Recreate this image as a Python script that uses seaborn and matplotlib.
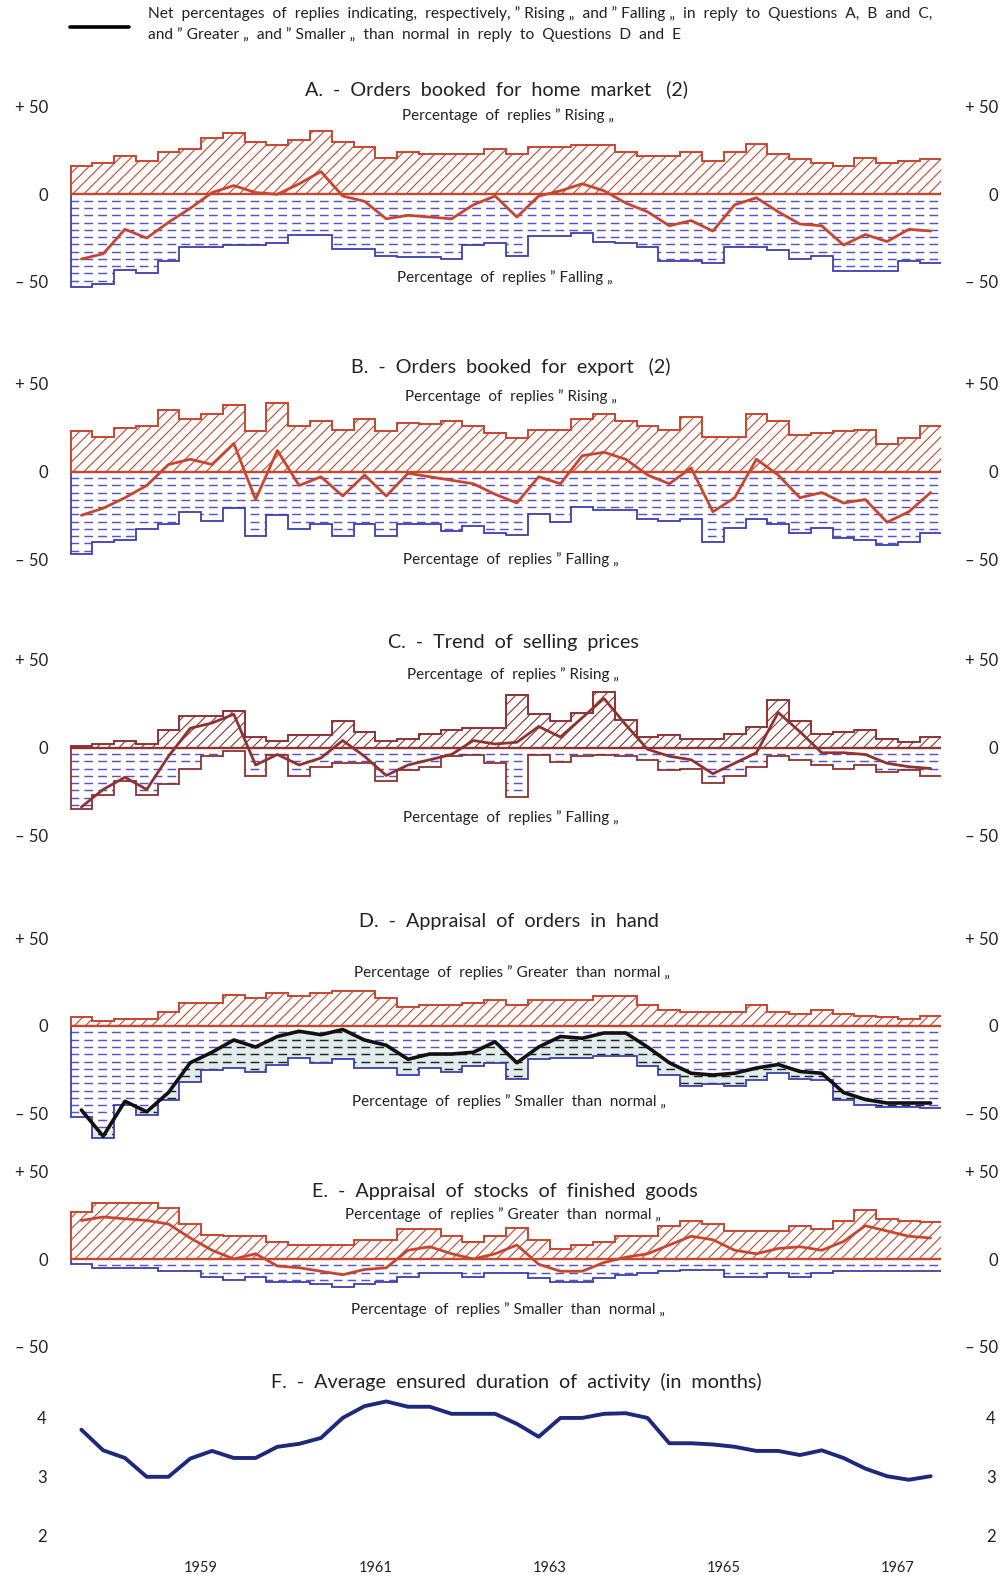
import numpy as np
import seaborn as sns
import matplotlib.pyplot as plt
from matplotlib.lines import Line2D
from matplotlib.patches import Polygon

# quarterly survey, 1958 Q1 .. 1967 Q4 (start of each quarter, in years)
quarters = np.arange(1958, 1968, 0.25)
centers = quarters + 0.125
years = [1959, 1961, 1963, 1965, 1967]

# A. orders booked for home market
a_rising = [16, 18, 22, 19, 24, 26, 32, 35, 30, 28, 31, 36, 30, 27, 21, 24, 23, 23, 23, 26,
            23, 27, 27, 28, 28, 24, 22, 22, 24, 19, 24, 29, 23, 20, 18, 16, 21, 18, 19, 20]
a_falling = [-53, -51, -43, -45, -38, -30, -30, -29, -29, -28, -23, -23, -31, -31, -35, -36, -36, -37, -29, -28,
             -35, -24, -24, -22, -27, -28, -30, -38, -38, -39, -30, -30, -32, -37, -35, -44, -44, -44, -38, -39]
a_net = [-37, -34, -20, -25, -16, -8, 1, 5, 1, 0, 6, 13, -1, -4, -14, -12, -13, -14, -6, -1,
         -13, -1, 2, 6, 2, -5, -10, -18, -15, -21, -6, -2, -10, -17, -18, -29, -23, -27, -20, -21]

# B. orders booked for export
b_rising = [23, 20, 25, 26, 35, 30, 33, 38, 23, 39, 26, 29, 24, 30, 23, 28, 27, 29, 26, 22,
            19, 24, 24, 30, 33, 29, 26, 24, 31, 20, 20, 33, 29, 21, 22, 23, 24, 16, 19, 26]
b_falling = [-47, -40, -39, -33, -30, -23, -28, -21, -37, -25, -33, -30, -37, -30, -37, -30, -30, -34, -31, -35,
             -36, -24, -29, -20, -22, -22, -27, -28, -27, -40, -32, -27, -30, -35, -32, -38, -39, -42, -40, -35]
b_net = [-25, -21, -15, -8, 4, 7, 4, 16, -16, 12, -8, -3, -14, -2, -14, -1, -3, -5, -7, -13,
         -18, -3, -7, 9, 11, 7, -2, -7, 2, -23, -15, 7, -2, -15, -12, -18, -16, -29, -23, -12]

# C. trend of selling prices
c_rising = [1, 2, 4, 2, 10, 18, 18, 21, 6, 4, 7, 7, 15, 9, 4, 5, 8, 10, 11, 11,
            30, 19, 15, 20, 32, 16, 6, 7, 5, 5, 8, 12, 27, 15, 8, 9, 10, 5, 3, 6]
c_falling = [-35, -27, -19, -27, -21, -12, -5, -2, -16, -4, -16, -11, -9, -9, -19, -13, -11, -5, -4, -9,
             -28, -4, -8, -5, -4, -5, -7, -13, -12, -20, -16, -11, -5, -7, -10, -12, -10, -14, -13, -16]
c_net = [-34, -24, -17, -24, -5, 11, 14, 19, -10, -4, -10, -6, 4, -5, -16, -10, -7, -4, 4, 2,
         3, 12, 6, 17, 28, 13, -1, -5, -7, -15, -9, -3, 20, 9, -3, -3, -4, -9, -11, -12]

# D. appraisal of orders in hand
d_greater = [5, 3, 4, 4, 8, 13, 13, 18, 16, 19, 17, 19, 20, 20, 16, 11, 12, 12, 13, 15,
             12, 15, 15, 15, 17, 17, 12, 9, 8, 8, 8, 12, 8, 7, 9, 7, 6, 5, 4, 6]
d_smaller = [-52, -64, -45, -51, -42, -32, -25, -24, -26, -22, -18, -21, -19, -24, -24, -28, -24, -26, -23, -21,
             -30, -19, -18, -18, -17, -17, -23, -28, -34, -33, -34, -31, -27, -30, -31, -42, -45, -46, -46, -47]
d_net = [-48, -63, -43, -49, -38, -21, -15, -8, -12, -6, -3, -5, -2, -8, -11, -19, -16, -16, -15, -9,
         -21, -12, -6, -7, -4, -4, -12, -21, -27, -28, -27, -24, -22, -26, -27, -38, -42, -44, -44, -44]

# E. appraisal of stocks of finished goods
e_greater = [27, 32, 32, 32, 29, 20, 14, 13, 13, 10, 8, 8, 8, 11, 11, 17, 17, 13, 10, 13,
             18, 11, 6, 8, 10, 13, 13, 19, 22, 20, 16, 16, 16, 19, 17, 22, 28, 23, 22, 21]
e_smaller = [-3, -5, -5, -5, -7, -7, -10, -12, -10, -13, -13, -14, -16, -14, -13, -10, -8, -8, -10, -8,
             -8, -11, -13, -13, -11, -9, -8, -7, -6, -6, -10, -10, -8, -10, -8, -7, -7, -7, -7, -7]
e_net = [22, 24, 23, 22, 20, 12, 5, 0, 3, -4, -5, -7, -9, -6, -5, 5, 7, 3, 0, 3,
         8, -3, -7, -7, -2, 1, 3, 8, 13, 11, 5, 3, 6, 7, 5, 10, 19, 16, 13, 12]

# F. average ensured duration of activity (months)
f_months = [3.80, 3.45, 3.32, 3.00, 3.00, 3.31, 3.44, 3.32, 3.32, 3.51, 3.56, 3.66, 4.00, 4.20,
            4.28, 4.19, 4.19, 4.07, 4.07, 4.07, 3.90, 3.68, 4.00, 4.00, 4.07, 4.08, 4.00, 3.57,
            3.57, 3.55, 3.51, 3.44, 3.44, 3.37, 3.45, 3.32, 3.14, 3.01, 2.95, 3.01]

RED = '#c8462e'
MAROON = '#8e3232'
BLUE = '#3c40b0'
DASH = '#5a52c8'
NAVY = '#1d2a7c'
TEXT = '#222222'
BOTTOM = -70

sns.set_theme(style='white')
plt.rcParams['font.family'] = ['Lato', 'DejaVu Sans']
plt.rcParams['hatch.linewidth'] = 0.8

W, H = 1004, 1579
fig = plt.figure(figsize=(W / 100, H / 100), dpi=100)
fig.patch.set_facecolor('white')


def fx(px):
    return px / W


def fy(py):
    return 1 - py / H


def outline(values):
    edges = np.append(quarters, quarters[-1] + 0.25)
    xs = np.repeat(edges, 2)
    ys = np.concatenate([[0], np.repeat(values, 2), [0]])
    return xs, ys


def make_axes(top, height, ylim, ticks, labels, pad_l, pad_r):
    ax = fig.add_axes([fx(70.5), fy(top + height), 871 / W, height / H])
    ax.set_xlim(1958, 1968)
    ax.set_ylim(*ylim)
    ax.set_yticks(ticks, labels)
    ax.tick_params(axis='both', length=0, labelsize=12, labelcolor=TEXT)
    ax.tick_params(axis='y', pad=pad_l)
    ax.set_xticks([])
    ax2 = ax.twinx()
    ax2.set_ylim(*ylim)
    ax2.set_yticks(ticks, labels, ha='right')
    ax2.tick_params(axis='y', length=0, labelsize=12, labelcolor=TEXT, pad=pad_r)
    for a in (ax, ax2):
        for s in a.spines.values():
            s.set_visible(False)
        a.set_facecolor('none')
    return ax


ROWS = np.arange(-3.7, BOTTOM, -4.15)


def dashed_rows(ax, clip, color, z):
    for yy in ROWS:
        ln = ax.axhline(yy, color=color, lw=1.05, ls=(0, (6, 3.5)), zorder=z)
        ln.set_clip_path(clip)


def panel(top_zero, rise, fall, net, rise_col, fall_col, net_col, net_lw=2.0, shade=False):
    ax = make_axes(top_zero - 105, 227.5, (BOTTOM, 60), [-50, 0, 50],
                   ['\u2013 50', '0', '+ 50'], 16, 41)
    xs, ys = outline(rise)
    ax.fill(xs, ys, facecolor='none', edgecolor=rise_col, hatch='///', lw=1.4, zorder=3)
    xs, ys = outline(fall)
    if shade:
        # below the net line: light tint with dark dashes; above it: blue dashes
        below = Polygon(np.c_[np.r_[centers, centers[-1], centers[0]],
                              np.r_[net, BOTTOM, BOTTOM]], closed=True,
                        facecolor='#e2ecec', lw=0, zorder=0.5, transform=ax.transData)
        ax.add_patch(below)
        above = Polygon(np.c_[np.r_[1958, 1958, centers[0], centers, centers[-1], 1968, 1968],
                              np.r_[0, BOTTOM, BOTTOM, net, BOTTOM, BOTTOM, 0]], closed=True,
                        facecolor='none', lw=0, transform=ax.transData)
        ax.add_patch(above)
        dashed_rows(ax, below, '#222222', 1)
        dashed_rows(ax, above, DASH, 1)
        # blank out everything beneath the "smaller" steps
        ax.fill(np.r_[1957.5, xs[1:-1], 1968.5, 1968.5, 1957.5],
                np.r_[ys[1], ys[1:-1], ys[-2], BOTTOM - 5, BOTTOM - 5],
                facecolor='white', lw=0, zorder=2.2)
        ax.fill(xs, ys, facecolor='none', edgecolor=fall_col, lw=1.3, zorder=2.5)
    else:
        edge = ax.fill(xs, ys, facecolor='none', edgecolor=fall_col, lw=1.3, zorder=2.5)[0]
        dashed_rows(ax, edge, DASH, 1)
    ax.axhline(0, color=rise_col, lw=1.7, zorder=4)
    sns.lineplot(x=centers, y=net, ax=ax, color=net_col, linewidth=net_lw, zorder=5)
    return ax


panel(194.3, a_rising, a_falling, a_net, RED, BLUE, RED)
panel(471.5, b_rising, b_falling, b_net, RED, BLUE, RED)
panel(747.5, c_rising, c_falling, c_net, MAROON, MAROON, MAROON)
panel(1026.0, d_greater, d_smaller, d_net, RED, BLUE, '#111111', net_lw=2.6, shade=True)
panel(1259.0, e_greater, e_smaller, e_net, RED, BLUE, RED)

axf = make_axes(1388.5, 147.2, (2, 4.5), [2, 3, 4], ['2', '3', '4'], 17, 39)
sns.lineplot(x=centers, y=f_months, ax=axf, color=NAVY, linewidth=2.8)
axf.set_xticks(np.array(years) + 0.5, [str(y) for y in years])
axf.tick_params(axis='x', pad=18, labelsize=10.5)

# header key
fig.add_artist(Line2D([fx(70), fx(129)], [fy(27), fy(27)], color='black', lw=2.6))
hdr = dict(ha='left', va='center', fontsize=11.2, color=TEXT)
fig.text(fx(148), fy(14), 'Net  percentages  of  replies  indicating,  respectively, \u201d Rising \u201e  and \u201d Falling \u201e  '
         'in  reply  to  Questions  A,  B  and  C,', **hdr)
fig.text(fx(148), fy(35), 'and \u201d Greater \u201e  and \u201d Smaller \u201e  than  normal  in  reply  to  Questions  D  and  E', **hdr)

tt = dict(ha='center', va='center', fontsize=14.2, color=TEXT)
st = dict(ha='center', va='center', fontsize=11, color=TEXT)
rising_txt = 'Percentage  of  replies \u201d Rising \u201e'
falling_txt = 'Percentage  of  replies \u201d Falling \u201e'

fig.text(fx(497), fy(89.6), 'A.  -  Orders  booked  for  home  market   (2)', **tt)
fig.text(fx(508), fy(116), rising_txt, **st)
fig.text(fx(505), fy(278), falling_txt, **st)

fig.text(fx(511), fy(366.5), 'B.  -  Orders  booked  for  export   (2)', **tt)
fig.text(fx(511), fy(397), rising_txt, **st)
fig.text(fx(511), fy(560), falling_txt, **st)

fig.text(fx(513), fy(642.5), 'C.  -  Trend  of  selling  prices', **tt)
fig.text(fx(513), fy(675), rising_txt, **st)
fig.text(fx(511), fy(818), falling_txt, **st)

fig.text(fx(509), fy(921.5), 'D.  -  Appraisal  of  orders  in  hand', **tt)
fig.text(fx(512), fy(973), 'Percentage  of  replies \u201d Greater  than  normal \u201e', **st)
fig.text(fx(509), fy(1102), 'Percentage  of  replies \u201d Smaller  than  normal \u201e', **st)

fig.text(fx(505), fy(1191.5), 'E.  -  Appraisal  of  stocks  of  finished  goods', **tt)
fig.text(fx(503), fy(1214.5), 'Percentage  of  replies \u201d Greater  than  normal \u201e', **st)
fig.text(fx(508), fy(1310), 'Percentage  of  replies \u201d Smaller  than  normal \u201e', **st)

fig.text(fx(516), fy(1381.5), 'F.  -  Average  ensured  duration  of  activity  (in  months)', **tt)

fig.savefig('out.png', dpi=100, facecolor='white')
